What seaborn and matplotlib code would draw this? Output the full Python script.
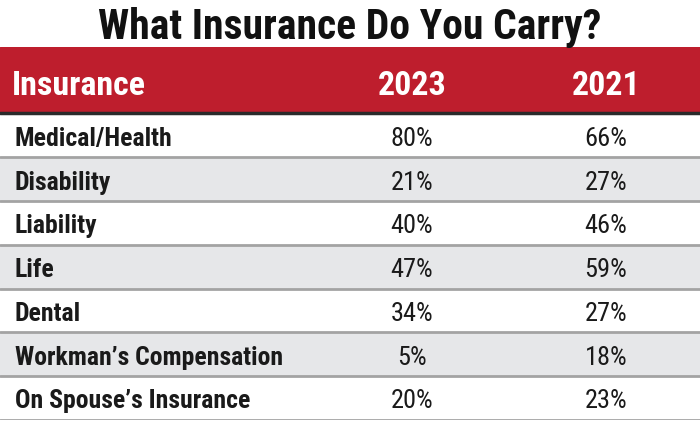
import numpy as np
import seaborn as sns
import matplotlib.pyplot as plt
from matplotlib.colors import ListedColormap

# table data
title = "What Insurance Do You Carry?"
header = ["Insurance", "2023", "2021"]
insurance = ["Medical/Health", "Disability", "Liability", "Life", "Dental",
             "Workman\u2019s Compensation", "On Spouse\u2019s Insurance"]
pct_2023 = [80, 21, 40, 47, 34, 5, 20]
pct_2021 = [66, 27, 46, 59, 27, 18, 23]

RED = "#be1e2d"
STRIPE = "#e6e7e9"
LINE = "#a3a3a3"

sns.set_theme(style="white")
plt.rcParams["font.family"] = ["Roboto Condensed", "DejaVu Sans"]

fig = plt.figure(figsize=(7, 4.22), dpi=100)
ax = fig.add_axes([0, 2 / 422, 1, 373 / 422])

# row stripes through seaborn's heatmap
stripes = np.array([[i % 2] for i in range(len(insurance))])
sns.heatmap(stripes, cmap=ListedColormap(["white", STRIPE]), cbar=False,
            ax=ax, linewidths=0)
head_h = 66 / 43.5
ax.set_xlim(0, 1)
ax.set_ylim(len(insurance), -head_h)
ax.axis("off")

# header band
ax.axhspan(-head_h, 0, color=RED, zorder=2)
ax.axhline(0, color="#2a2a2a", lw=2.5, zorder=3)
for i in range(len(insurance)):
    ax.axhline(i + 1, color=LINE, lw=2, zorder=3)

col_x = [12 / 700, 412 / 700, 606 / 700]
hy = -head_h / 2 + 0.05
ax.text(col_x[0], hy, header[0], color="white", fontsize=24.5, fontweight="bold",
        ha="left", va="center_baseline", zorder=4)
for x, h in zip(col_x[1:], header[1:]):
    ax.text(x, hy, h, color="white", fontsize=24.5, fontweight="bold",
            ha="center", va="center_baseline", zorder=4)

for i, (name, a, b) in enumerate(zip(insurance, pct_2023, pct_2021)):
    y = i + 0.52
    ax.text(15 / 700, y, name, fontsize=18.5, fontweight="bold", color="#1a1a1a",
            ha="left", va="center_baseline", zorder=4)
    ax.text(col_x[1], y, f"{a}%", fontsize=19, color="#1a1a1a",
            ha="center", va="center_baseline", zorder=4)
    ax.text(col_x[2], y, f"{b}%", fontsize=19, color="#1a1a1a",
            ha="center", va="center_baseline", zorder=4)

fig.text(0.5, 1 - 23 / 422, title, fontsize=30, fontweight="bold",
         color="#111111", ha="center", va="center_baseline")

fig.savefig("out.png", dpi=100)
